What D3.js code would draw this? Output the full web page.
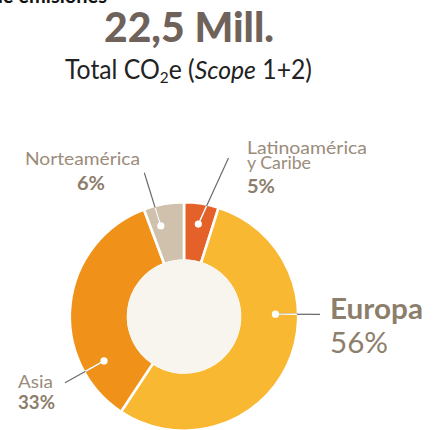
<!DOCTYPE html>
<html>
<head>
<meta charset="utf-8">
<script src="https://cdn.jsdelivr.net/npm/d3@7"></script>
<style>
  html, body { margin: 0; padding: 0; background: #ffffff; }
  svg { display: block; }
</style>
</head>
<body>
<script>
// ---- data ----
const regions = ["Latinoamérica y Caribe", "Europa", "Asia", "Norteamérica"];
const shares = [4.9, 54.4, 35.0, 5.7];            // arc sizes as drawn
const pctLabels = ["5%", "56%", "33%", "6%"];       // printed labels
const sliceColors = ["#e5612a", "#f9b832", "#f0921a", "#cfc1ab"];
const titleText = "22,5 Mill.";
const topCutText = "de emisiones";

// ---- layout ----
const W = 435, H = 430;
const cx = 184, cy = 316.5, R = 113, r0 = 57;
const labelColor = "#9b8c7b";
const pctColor = "#8d7e6c";
const fontFam = "Lato, 'Open Sans', 'DejaVu Sans', sans-serif";

const layout = {
  "Latinoamérica y Caribe": { frac: 0.5, dotR: 93.5, end: [228.5, 158],
    x: 247, y: 154, anchor: "start", size: 17.5, lh: 14.5,
    lines: [{t: "Latinoamérica", w: 120}, {t: "y Caribe", w: 64}],
    pct: {x: 247, y: 193, anchor: "start", size: 18, w: 28, weight: 700} },
  "Europa": { frac: 0.362, dotR: 91.5, end: [320, 314.3],
    x: 330, y: 319, anchor: "start", size: 29, weight: 700, color: pctColor, lh: 0,
    lines: [{t: "Europa", w: 93}],
    pct: {x: 330, y: 353, anchor: "start", size: 29, w: 58, weight: 400} },
  "Asia": { frac: 0.218, dotR: 91.5, end: [65, 382.7],
    x: 18, y: 388, anchor: "start", size: 18, lh: 0,
    lines: [{t: "Asia", w: 35}],
    pct: {x: 18, y: 409, anchor: "start", size: 18, w: 37, weight: 700} },
  "Norteamérica": { frac: 0.3, dotR: 93.5, end: [144.3, 172.7],
    x: 82.5, y: 165, anchor: "middle", size: 18, lh: 0,
    lines: [{t: "Norteamérica", w: 115}],
    pct: {x: 91, y: 190, anchor: "middle", size: 18, w: 28, weight: 700} }
};

function fitWidth(sel, target) {
  if (!target) return;
  sel.attr("textLength", target).attr("lengthAdjust", "spacingAndGlyphs");
}

const svg = d3.select("body").append("svg")
  .attr("width", W).attr("height", H)
  .attr("viewBox", `0 0 ${W} ${H}`);

// cut-off heading at very top
svg.append("text").attr("x", 107).attr("y", 3)
  .attr("text-anchor", "end")
  .attr("font-family", fontFam).attr("font-weight", 700)
  .attr("font-size", 20).attr("fill", "#111").text(topCutText);

// title
const title = svg.append("text").attr("x", 189).attr("y", 42)
  .attr("text-anchor", "middle")
  .attr("font-family", fontFam).attr("font-weight", 900)
  .attr("font-size", 41).attr("fill", "#6f625b")
  .text(titleText);
fitWidth(title, 170);

// subtitle with subscript and italic
const sub = svg.append("text").attr("x", 188.5).attr("y", 78.5)
  .attr("text-anchor", "middle")
  .attr("font-family", fontFam).attr("font-weight", 400)
  .attr("font-size", 26).attr("fill", "#222");
sub.append("tspan").text("Total CO");
sub.append("tspan").attr("font-size", "0.62em").attr("dy", 4).text("2");
sub.append("tspan").attr("dy", -4).text("e (");
sub.append("tspan").attr("font-style", "italic").text("Scope");
sub.append("tspan").text(" 1+2)");
fitWidth(sub, 247);

// donut
const pie = d3.pie().sort(null).value(d => d);
const arcs = pie(shares);
const arc = d3.arc().innerRadius(r0 - 1).outerRadius(R + 1.2);

const g = svg.append("g").attr("transform", `translate(${cx},${cy})`);
g.selectAll("path.slice").data(arcs).join("path")
  .attr("class", "slice")
  .attr("d", arc)
  .attr("fill", (d, i) => sliceColors[i])
  .attr("stroke", "#ffffff")
  .attr("stroke-width", 2.6)
  .attr("stroke-linejoin", "miter");

g.append("circle").attr("r", r0).attr("fill", "#f8f5ef");

// clip for white inner part of leaders
svg.append("defs").append("clipPath").attr("id", "ring")
  .append("circle").attr("cx", cx).attr("cy", cy).attr("r", R);

// leaders, dots and labels
arcs.forEach((a, i) => {
  const name = regions[i];
  const L = layout[name];
  const ang = a.startAngle + (a.endAngle - a.startAngle) * L.frac;
  const dx = cx + L.dotR * Math.sin(ang);
  const dy = cy - L.dotR * Math.cos(ang);
  svg.append("line")
    .attr("x1", dx).attr("y1", dy).attr("x2", L.end[0]).attr("y2", L.end[1])
    .attr("stroke", "#6b6b6b").attr("stroke-width", 1.2);
  svg.append("line")
    .attr("clip-path", "url(#ring)")
    .attr("x1", dx).attr("y1", dy).attr("x2", L.end[0]).attr("y2", L.end[1])
    .attr("stroke", "#ffffff").attr("stroke-width", 1.4);
  svg.append("circle").attr("cx", dx).attr("cy", dy).attr("r", 3.6)
    .attr("fill", "#ffffff");

  const t = svg.append("text").attr("x", L.x).attr("y", L.y)
    .attr("text-anchor", L.anchor)
    .attr("font-family", fontFam)
    .attr("font-weight", L.weight || 400)
    .attr("font-size", L.size)
    .attr("fill", L.color || labelColor);
  L.lines.forEach((ln, k) => {
    const ts = t.append("tspan").attr("x", L.x).attr("dy", k === 0 ? 0 : L.lh).text(ln.t);
    fitWidth(ts, ln.w);
  });

  const p = L.pct;
  const pt = svg.append("text").attr("x", p.x).attr("y", p.y)
    .attr("text-anchor", p.anchor)
    .attr("font-family", fontFam)
    .attr("font-weight", p.weight)
    .attr("font-size", p.size)
    .attr("fill", pctColor)
    .text(pctLabels[i]);
  fitWidth(pt, p.w);
});
</script>
</body>
</html>
